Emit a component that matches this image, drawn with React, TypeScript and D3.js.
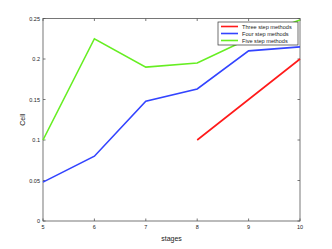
import * as d3 from 'd3'
import { useEffect, useRef } from 'react'

const stages = [5, 6, 7, 8, 9, 10]
const threeStep = [null, null, null, 0.1, 0.15, 0.2]
const fourStep = [0.048, 0.08, 0.148, 0.163, 0.21, 0.215]
const fiveStep = [0.1, 0.225, 0.19, 0.195, 0.225, 0.248]
const yTicks = [0, 0.05, 0.1, 0.15, 0.2, 0.25]
const seriesNames = ['Three step methods', 'Four step methods', 'Five step methods']
const seriesColors = ['#ff0000', '#0000ff', '#00ff00']

export default function App() {
    const svgRef = useRef<SVGSVGElement>(null)

    useEffect(() => {
        makeChart(svgRef)
    }, [])

    function makeChart(svgRef: React.RefObject<SVGSVGElement>) {
        const width = 332
        const height = 249
        const left = 43, right = 300, top = 18.5, bottom = 221

        const svg = d3.select(svgRef.current).attr('width', width).attr('height', height)
        svg.selectAll('*').remove()
        svg.append('rect').attr('width', width).attr('height', height).attr('fill', '#fff')

        const x = d3.scaleLinear().domain([5, 10]).range([left, right])
        const y = d3.scaleLinear().domain([0, 0.25]).range([bottom, top])

        const font = 'Liberation Sans, Arial, sans-serif'
        const axisColor = '#555'

        // frame
        svg.append('rect')
            .attr('x', left).attr('y', top)
            .attr('width', right - left).attr('height', bottom - top)
            .attr('fill', 'none').attr('stroke', axisColor).attr('stroke-width', 0.8)

        // ticks inward
        const tl = 2.5
        stages.forEach(s => {
            svg.append('line').attr('x1', x(s)).attr('x2', x(s)).attr('y1', bottom).attr('y2', bottom - tl)
                .attr('stroke', axisColor).attr('stroke-width', 0.8)
            svg.append('line').attr('x1', x(s)).attr('x2', x(s)).attr('y1', top).attr('y2', top + tl)
                .attr('stroke', axisColor).attr('stroke-width', 0.8)
            svg.append('text').attr('x', x(s)).attr('y', bottom + 8)
                .attr('text-anchor', 'middle').attr('font-family', font).attr('font-size', 5.5)
                .attr('fill', '#222').text(String(s))
        })
        yTicks.forEach(t => {
            svg.append('line').attr('x1', left).attr('x2', left + tl).attr('y1', y(t)).attr('y2', y(t))
                .attr('stroke', axisColor).attr('stroke-width', 0.8)
            svg.append('line').attr('x1', right).attr('x2', right - tl).attr('y1', y(t)).attr('y2', y(t))
                .attr('stroke', axisColor).attr('stroke-width', 0.8)
            svg.append('text').attr('x', left - 3).attr('y', y(t) + 2)
                .attr('text-anchor', 'end').attr('font-family', font).attr('font-size', 5.5)
                .attr('fill', '#222').text(String(t))
        })

        svg.append('text').attr('x', (left + right) / 2).attr('y', 241)
            .attr('text-anchor', 'middle').attr('font-family', font).attr('font-size', 7)
            .attr('fill', '#222').text('stages')
        svg.append('text').attr('transform', `translate(25,${(top + bottom) / 2}) rotate(-90)`)
            .attr('text-anchor', 'middle').attr('font-family', font).attr('font-size', 7)
            .attr('fill', '#222').text('Cell')

        const lineGen = d3.line<number | null>()
            .defined(d => d !== null)
            .x((_, i) => x(stages[i]))
            .y(d => y(d as number))

        const series = [threeStep, fourStep, fiveStep]
        const drawOrder = [2, 1, 0]
        const lineColors = ['#ff1a1a', '#3344ff', '#66ee22']
        drawOrder.forEach(i => {
            svg.append('path').datum(series[i]).attr('d', lineGen)
                .attr('fill', 'none').attr('stroke', lineColors[i]).attr('stroke-width', 1.6)
        })

        // legend
        const lg = svg.append('g').attr('transform', 'translate(218,22)')
        lg.append('rect').attr('width', 80).attr('height', 23)
            .attr('fill', '#fff').attr('stroke', '#333').attr('stroke-width', 0.7)
        seriesNames.forEach((name, i) => {
            const yy = 4.5 + i * 7
            lg.append('line').attr('x1', 3).attr('x2', 20).attr('y1', yy).attr('y2', yy)
                .attr('stroke', lineColors[i]).attr('stroke-width', 1.6)
            lg.append('text').attr('x', 24).attr('y', yy + 2)
                .attr('font-family', font).attr('font-size', 5.6).attr('fill', '#222').text(name)
        })
        void seriesColors
    }

    return (
        <svg ref={svgRef} style={{ position: 'absolute', left: 0, top: 0 }}></svg>
    )
}
